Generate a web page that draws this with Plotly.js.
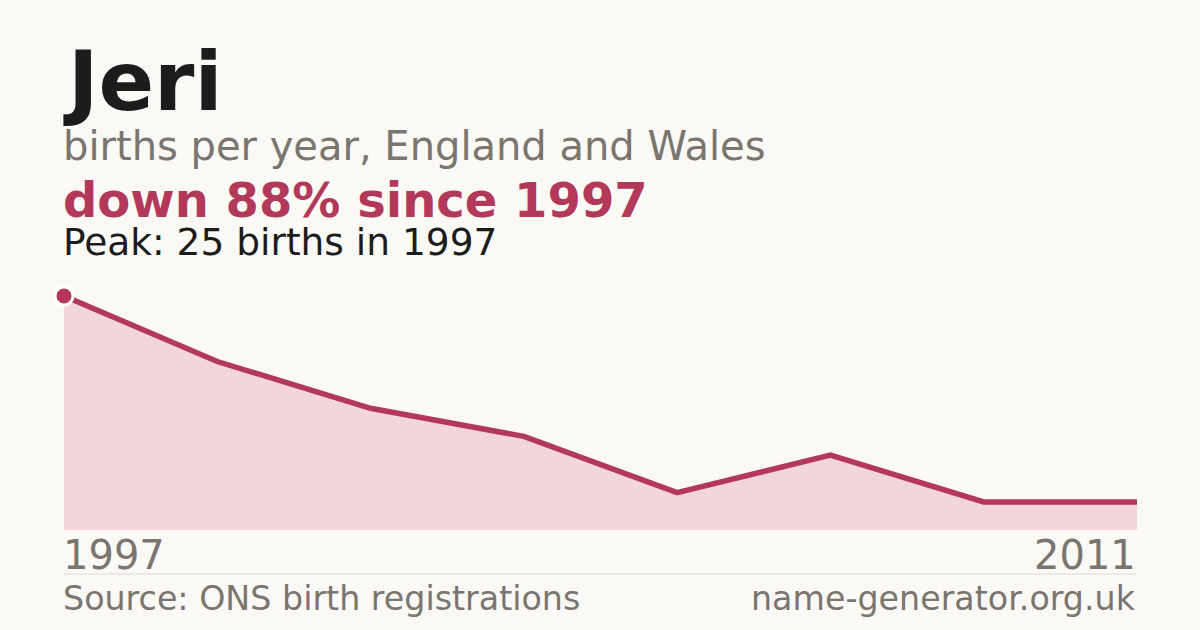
<!DOCTYPE html>
<html>
<head>
<meta charset="utf-8">
<script src="https://cdn.plot.ly/plotly-3.0.1.min.js"></script>
<style>
  html, body { margin: 0; padding: 0; background: #faf9f5; }
  #chart { width: 1200px; height: 630px; }
</style>
</head>
<body>
<div id="chart"></div>
<script>
var years = [1997, 1999, 2001, 2003, 2005, 2007, 2009, 2011];
var births = [25, 18, 13, 10, 4, 8, 3, 3];

var babyName = 'Jeri';
var subtitle = 'births per year, England and Wales';
var source = 'Source: ONS birth registrations';
var site = 'name-generator.org.uk';

var crimson = '#b3395a';
var grey = '#7a756e';
var ink = '#1c1c1c';
var font = 'DejaVu Sans, sans-serif';

// peak + change since first year
var peakIdx = births.indexOf(Math.max.apply(null, births));
var first = births[0], last = births[births.length - 1];
var change = Math.round((first - last) / first * 100);

// plot area is 296..530 px tall, 64..1137 wide; convert pixels to paper units
var plotTop = 296, plotBottom = 530, plotLeft = 64, plotRight = 1137;
function py(y) { return (plotBottom - y) / (plotBottom - plotTop); }
var padX = -2 / (plotRight - plotLeft);

var area = {
  x: years,
  y: births,
  type: 'scatter',
  mode: 'lines',
  fill: 'tozeroy',
  fillcolor: '#f2d6dc',
  line: { color: crimson, width: 5.5 },
  hoverinfo: 'skip'
};

var peak = {
  x: [years[peakIdx]],
  y: [births[peakIdx]],
  type: 'scatter',
  mode: 'markers',
  cliponaxis: false,
  marker: { color: crimson, size: 18, line: { color: '#ffffff', width: 3 } },
  hoverinfo: 'skip'
};

var layout = {
  width: 1200,
  height: 630,
  paper_bgcolor: '#faf9f5',
  plot_bgcolor: '#faf9f5',
  showlegend: false,
  margin: { l: plotLeft, r: 1200 - plotRight, t: plotTop, b: 630 - plotBottom },
  xaxis: {
    range: [years[0], years[years.length - 1]],
    showgrid: false, zeroline: false, showticklabels: false, ticks: ''
  },
  yaxis: {
    range: [0, births[peakIdx]],
    showgrid: false, zeroline: false, showticklabels: false, ticks: ''
  },
  shapes: [{
    type: 'line', xref: 'paper', yref: 'paper',
    x0: 0, x1: 1, y0: py(574), y1: py(574),
    line: { color: '#dedad3', width: 1 }
  }],
  annotations: [
    { text: '<b>' + babyName + '</b>', x: padX, y: py(33), font: { size: 82, color: ink } },
    { text: subtitle, x: padX, y: py(122), font: { size: 40, color: grey } },
    { text: '<b>down ' + change + '% since ' + years[0] + '</b>', x: padX, y: py(171), font: { size: 48, color: crimson } },
    { text: 'Peak: ' + births[peakIdx] + ' births in ' + years[peakIdx], x: padX, y: py(219), font: { size: 37.5, color: ink } },
    { text: String(years[0]), xref: 'x', x: years[0], xshift: -2, y: py(531), font: { size: 40, color: grey } },
    { text: String(years[years.length - 1]), xref: 'x', x: years[years.length - 1], xanchor: 'right', y: py(531), font: { size: 40, color: grey } },
    { text: source, x: padX, y: py(578), font: { size: 33.3, color: grey } },
    { text: site, x: 1, xanchor: 'right', y: py(578), font: { size: 33.3, color: grey } }
  ].map(function (a) {
    return Object.assign({
      xref: 'paper', yref: 'paper', xanchor: 'left', yanchor: 'top',
      showarrow: false, borderpad: 0
    }, a, { font: Object.assign({ family: font }, a.font) });
  })
};

Plotly.newPlot('chart', [area, peak], layout, { staticPlot: true, displayModeBar: false });
</script>
</body>
</html>
